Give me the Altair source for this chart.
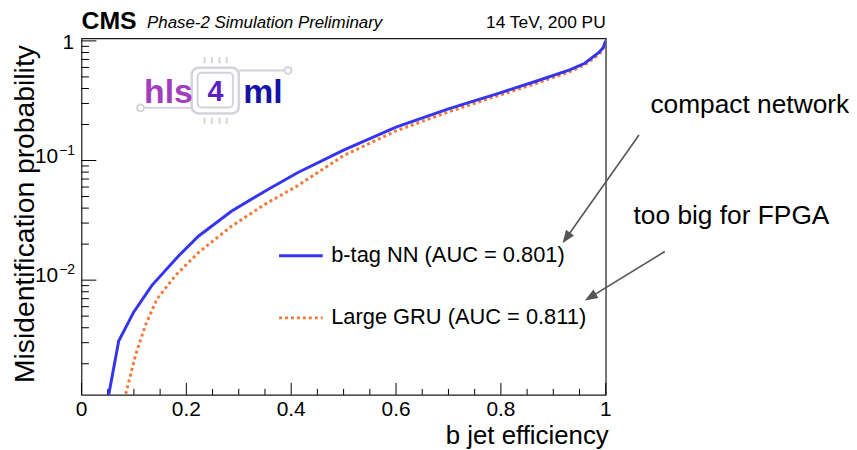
import math
import altair as alt
import pandas as pd

# ---------------- data ----------------
eff_nn = [0.050, 0.052, 0.071, 0.0995, 0.134, 0.185, 0.223, 0.286, 0.349, 0.412,
          0.500, 0.600, 0.700, 0.800, 0.867, 0.930, 0.960, 0.987, 0.995, 1.000]
mis_nn = [0.0010, 0.0011, 0.0031, 0.0054, 0.0090, 0.0159, 0.0233, 0.0376, 0.0551, 0.0790,
          0.122, 0.190, 0.270, 0.370, 0.46, 0.57, 0.65, 0.80, 0.875, 1.0]

eff_gru = [0.082, 0.084, 0.103, 0.122, 0.144, 0.179, 0.223, 0.286, 0.349, 0.412,
           0.500, 0.600, 0.700, 0.800, 0.867, 0.930, 0.960, 0.987, 0.995, 1.000]
mis_gru = [0.0010, 0.0011, 0.00235, 0.0042, 0.00695, 0.0109, 0.0170, 0.0282, 0.0428, 0.0615,
           0.110, 0.177, 0.255, 0.355, 0.44, 0.55, 0.63, 0.77, 0.86, 1.0]

series_labels = ["b-tag NN (AUC = 0.801)", "Large GRU (AUC = 0.811)"]

x_major = [0.0, 0.2, 0.4, 0.6, 0.8, 1.0]
x_major_labels = ["0", "0.2", "0.4", "0.6", "0.8", "1"]
x_minor = [0.05, 0.1, 0.15, 0.25, 0.3, 0.35, 0.45, 0.5, 0.55,
           0.65, 0.7, 0.75, 0.85, 0.9, 0.95]
y_major = [0.01, 0.1, 1.0]
y_minor = [0.002, 0.003, 0.004, 0.005, 0.006, 0.007, 0.008, 0.009,
           0.02, 0.03, 0.04, 0.05, 0.06, 0.07, 0.08, 0.09,
           0.2, 0.3, 0.4, 0.5, 0.6, 0.7, 0.8, 0.9]
y_pow_values = [0.1, 0.01]
y_pow_sups = ["\u22121", "\u22122"]

# ---------------- layout ----------------
W, H = 528, 359
FONT = "Liberation Sans"
BLUE = "#3535f0"
ORANGE = "#f07a3a"
GRAY = "#d3d3db"

xs = alt.Scale(domain=[0, 1], nice=False, zero=False)
ys = alt.Scale(type="log", domain=[0.0011, 1.05], nice=False)

one = pd.DataFrame({"k": [0]})


def vtext(text, x, y, size, color="black", align="left", baseline="alphabetic",
          weight="normal", style="normal", angle=0):
    return alt.Chart(one).mark_text(
        text=text, fontSize=size, color=color, align=align, baseline=baseline,
        fontWeight=weight, fontStyle=style, angle=angle, font=FONT
    ).encode(x=alt.value(x), y=alt.value(y))


def vrule(x1, y1, x2, y2, color, width, dash=None):
    m = dict(color=color, strokeWidth=width)
    if dash:
        m["strokeDash"] = dash
        m["strokeCap"] = "butt"
    return alt.Chart(one).mark_rule(**m).encode(
        x=alt.value(x1), y=alt.value(y1), x2=alt.value(x2), y2=alt.value(y2))


def vrect(x1, y1, x2, y2, color, width, radius):
    return alt.Chart(one).mark_rect(
        fillOpacity=0, stroke=color, strokeWidth=width, cornerRadius=radius
    ).encode(x=alt.value(x1), y=alt.value(y1), x2=alt.value(x2), y2=alt.value(y2))


def vcircle(x, y, d, color, width):
    return alt.Chart(one).mark_point(
        shape="circle", filled=False, size=d * d, color=color, strokeWidth=width, opacity=1
    ).encode(x=alt.value(x), y=alt.value(y))


def arrow(x0, y0, x1, y1, color="#555555", width=1.6, head=13):
    dx, dy = x1 - x0, y1 - y0
    L = math.hypot(dx, dy)
    ux, uy = dx / L, dy / L
    cx, cy = x1 - ux * head / 2, y1 - uy * head / 2
    ang = math.degrees(math.atan2(dx, -dy)) % 360
    shaft = vrule(x0, y0, cx, cy, color, width)
    tip = alt.Chart(one).mark_point(
        shape="M0,-1L0.75,1L-0.75,1Z", filled=True, size=head * head, color=color,
        angle=ang, opacity=1, strokeWidth=0
    ).encode(x=alt.value(cx), y=alt.value(cy))
    return [shaft, tip]


layers = []

# ticks (inside the frame)
layers.append(alt.Chart(pd.DataFrame({"v": x_major})).mark_rule(color="black", strokeWidth=1).encode(
    x=alt.X("v:Q", scale=xs, axis=None), y=alt.value(H), y2=alt.value(H - 12)))
layers.append(alt.Chart(pd.DataFrame({"v": x_minor})).mark_rule(color="black", strokeWidth=1).encode(
    x=alt.X("v:Q", scale=xs, axis=None), y=alt.value(H), y2=alt.value(H - 6)))
layers.append(alt.Chart(pd.DataFrame({"v": y_major})).mark_rule(color="black", strokeWidth=1).encode(
    y=alt.Y("v:Q", scale=ys, axis=None), x=alt.value(0), x2=alt.value(15)))
layers.append(alt.Chart(pd.DataFrame({"v": y_minor})).mark_rule(color="black", strokeWidth=1).encode(
    y=alt.Y("v:Q", scale=ys, axis=None), x=alt.value(0), x2=alt.value(7.5)))

# tick labels
layers.append(alt.Chart(pd.DataFrame({"v": x_major, "t": x_major_labels})).mark_text(
    fontSize=21, font=FONT, align="center", baseline="alphabetic", color="black").encode(
    x=alt.X("v:Q", scale=xs, axis=None), y=alt.value(H + 21), text="t:N"))
layers.append(alt.Chart(pd.DataFrame({"v": [1.0], "t": ["1"]})).mark_text(
    fontSize=21, font=FONT, align="right", baseline="alphabetic", color="black", dy=8).encode(
    y=alt.Y("v:Q", scale=ys, axis=None), x=alt.value(-7.5), text="t:N"))
layers.append(alt.Chart(pd.DataFrame({"v": y_pow_values, "t": ["10", "10"]})).mark_text(
    fontSize=21, font=FONT, align="right", baseline="alphabetic", color="black", dy=2).encode(
    y=alt.Y("v:Q", scale=ys, axis=None), x=alt.value(-23.5), text="t:N"))
layers.append(alt.Chart(pd.DataFrame({"v": y_pow_values, "t": y_pow_sups})).mark_text(
    fontSize=14, font=FONT, align="left", baseline="alphabetic", color="black", dy=-6).encode(
    y=alt.Y("v:Q", scale=ys, axis=None), x=alt.value(-22.5), text="t:N"))

# curves
layers.append(alt.Chart(pd.DataFrame({"eff": eff_gru, "mis": mis_gru})).mark_line(
    color=ORANGE, strokeWidth=3, strokeDash=[3, 3], strokeCap="butt", clip=True).encode(
    x=alt.X("eff:Q", scale=xs, axis=None), y=alt.Y("mis:Q", scale=ys, axis=None)))
layers.append(alt.Chart(pd.DataFrame({"eff": eff_nn, "mis": mis_nn})).mark_line(
    color=BLUE, strokeWidth=3, clip=True).encode(
    x=alt.X("eff:Q", scale=xs, axis=None), y=alt.Y("mis:Q", scale=ys, axis=None)))

# legend
layers.append(vrule(199, 219, 243, 219, BLUE, 3))
layers.append(vrule(199, 281.5, 243, 281.5, ORANGE, 3, dash=[3, 3]))
layers.append(vtext(series_labels[0], 251.5, 218, 22, baseline="middle"))
layers.append(vtext(series_labels[1], 251.5, 281, 22, baseline="middle"))

# titles
layers.append(vtext("CMS", 0, -9, 25, weight="bold"))
layers.append(vtext("Phase-2 Simulation Preliminary", 66, -10, 17, style="italic"))
layers.append(vtext("14 TeV, 200 PU", W, -10, 17.5, align="right"))
layers.append(vtext("b jet efficiency", W + 3, H + 50, 26, align="right"))
layers.append(vtext("Misidentification probability", -48, 177, 28.5, align="center", angle=270))

# annotations
layers.append(vtext("compact network", 573, 75, 26.5))
layers.append(vtext("too big for FPGA", 556, 187, 26.5))
layers += arrow(561.5, 97.3, 484.5, 206.3)
layers += arrow(587.5, 214.7, 507.0, 264.0)

# hls4ml logo
layers.append(vrule(63, 70, 111, 70, GRAY, 2))
layers.append(vcircle(59.5, 70, 7, GRAY, 2))
layers.append(vrule(158.5, 32.3, 204.5, 32.3, GRAY, 2))
layers.append(vcircle(208, 32.3, 7, GRAY, 2))
for px in [124, 131.3, 139, 146.3]:
    layers.append(vrule(px, 19, px, 25, GRAY, 2))
    layers.append(vrule(px, 80, px, 86, GRAY, 2))
layers.append(vrect(111, 29.7, 158.5, 75.7, GRAY, 2.5, 7))
layers.append(vrect(117, 34.7, 152.5, 69.7, GRAY, 2, 4))
layers.append(vtext("hls", 63, 64.7, 34, color="#a23dbd", weight="bold"))
layers.append(vtext("4", 135, 63.5, 29, color="#5a22c6", weight="bold", align="center"))
layers.append(vtext("ml", 163, 64.7, 34, color="#1612a8", weight="bold"))

chart = alt.layer(*layers).properties(
    width=W, height=H, autosize="none",
    padding={"left": 74, "top": 29, "right": 245, "bottom": 54},
    background="white",
).configure_view(stroke="#1a1a1a", strokeWidth=1.2)

chart.save("out.html", embed_options={"renderer": "svg", "actions": False})
